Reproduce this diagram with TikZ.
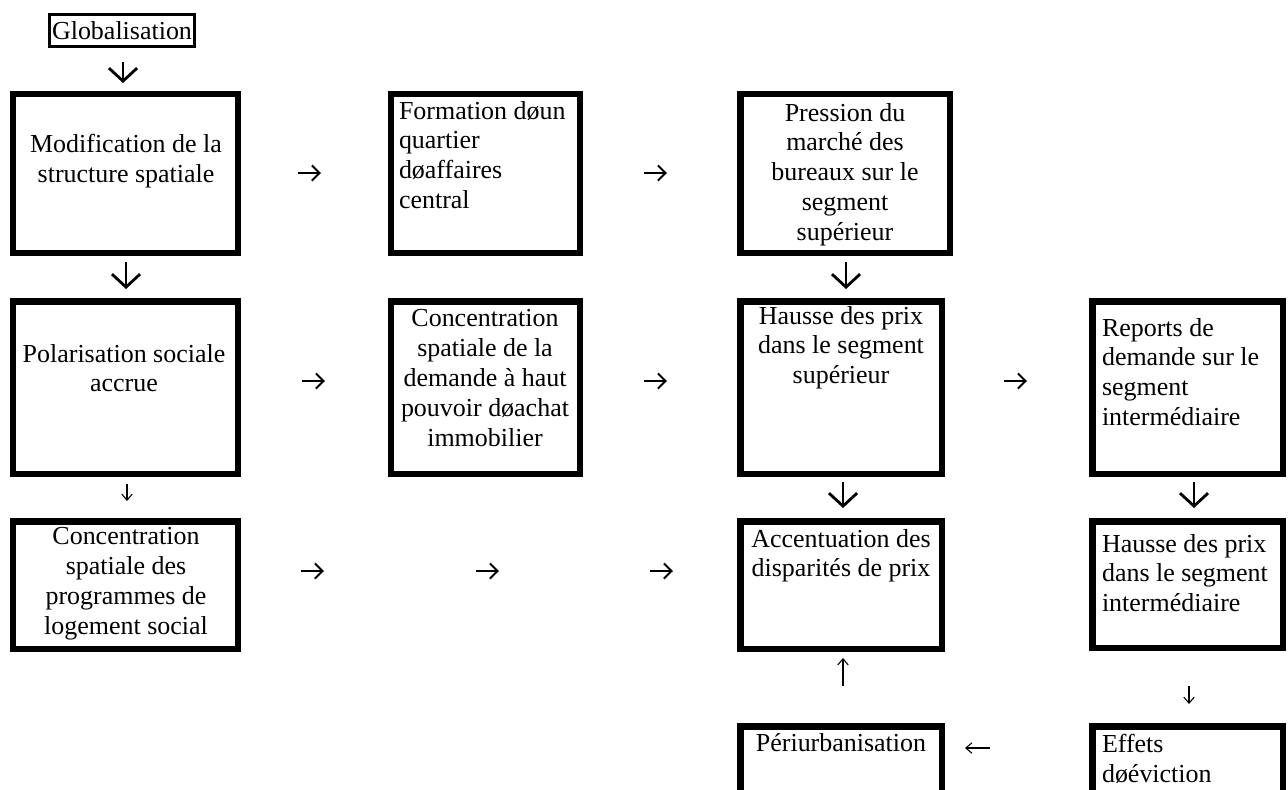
\documentclass[tikz,border=0pt]{standalone}
\usepackage{fontspec}
\setmainfont{Liberation Serif}
\usetikzlibrary{arrows.meta}
\newcommand\mybox[6][box]{%
  \node[#1, minimum width={(#5-#3)*0.4622pt-3pt}, minimum height={(#6-#4)*0.4622pt-3pt}]
    (#2) at ({(#3+#5)/2},{(#4+#6)/2}) {};}
\tikzset{
  x=0.4622pt, y=-0.4622pt,
  box/.style={draw, line width=3pt, inner sep=0pt, outer sep=0pt},
  thinbox/.style={draw, line width=1.4pt, inner sep=0pt, outer sep=0pt},
  txt/.style={inner sep=0pt, outer sep=0pt, font=\fontsize{12}{13.85}\selectfont},
  ctxt/.style={txt, anchor=north, align=center},
  ltxt/.style={txt, anchor=north west, align=left},
  bigdown/.style={line width=1.3pt, -{Straight Barb[length=6pt, width=13pt, line width=1.3pt]}},
  rarr/.style={line width=0.9pt, -{Straight Barb[length=3.6pt, width=7pt, line width=0.9pt]}},
  thinarr/.style={line width=0.5pt, -{Straight Barb[length=2.8pt, width=4.8pt, line width=0.5pt]}},
}
\begin{document}
\begin{tikzpicture}
\clip (0,0) rectangle (1288,789);
\fill[white] (0,0) rectangle (1288,789);

% boxes
\mybox[thinbox]{glob}{46}{11}{198}{50}
\node[txt] at (glob.center) {Globalisation};
\mybox{mod}{10}{91}{241}{256}
\mybox{form}{388}{91}{583}{256}
\mybox{press}{737}{91}{953}{256}
\mybox{pol}{10}{298}{241}{477}
\mybox{conc}{388}{298}{583}{477}
\mybox{hsup}{737}{298}{945}{477}
\mybox{rep}{1089}{298}{1286}{477}
\mybox{csoc}{10}{518}{241}{652}
\mybox{acc}{737}{518}{945}{652}
\mybox{hint}{1089}{518}{1286}{651}
\mybox{peri}{737}{723}{945}{810}
\mybox{eff}{1089}{723}{1286}{810}

% texts
\node[ctxt] (tmod) at (126,134) {Modification de la\\structure spatiale};
\node[ltxt] (tform) at (399,101) {Formation døun\\quartier\\døaffaires\\central};
\node[ctxt] (tpress) at (845,103) {Pression du\\marché des\\bureaux sur le\\segment\\supérieur};
\node[ctxt] (tpol) at (124,344) {Polarisation sociale\\accrue};
\node[ctxt] (tconc) at (485,309) {Concentration\\spatiale de la\\demande à haut\\pouvoir døachat\\immobilier};
\node[ctxt] (thsup) at (841,306) {Hausse des prix\\dans le segment\\supérieur};
\node[ltxt] (trep) at (1102,318) {Reports de\\demande sur le\\segment\\intermédiaire};
\node[ctxt] (tcsoc) at (126,527) {Concentration\\spatiale des\\programmes de\\logement social};
\node[ctxt] (tacc) at (841,529) {Accentuation des\\disparités de prix};
\node[ltxt] (thint) at (1102,534) {Hausse des prix\\dans le segment\\intermédiaire};
\node[ctxt] (tperi) at (841,733) {Périurbanisation};
\node[ltxt] (teff) at (1102,734) {Effets\\døéviction};

% connector end points
\coordinate (a1s) at (123,62);  \coordinate (a1e) at (123,83);
\coordinate (a2s) at (126,262); \coordinate (a2e) at (126,289);
\coordinate (a3s) at (846,262); \coordinate (a3e) at (846,289);
\coordinate (a4s) at (298,173); \coordinate (a4e) at (321,173);
\coordinate (a5s) at (644,173); \coordinate (a5e) at (667,173);
\coordinate (a6s) at (302,381); \coordinate (a6e) at (325,381);
\coordinate (a7s) at (644,381); \coordinate (a7e) at (667,381);
\coordinate (a8s) at (1004,381); \coordinate (a8e) at (1027,381);
\coordinate (a9s) at (127,484);  \coordinate (a9e) at (127,501);
\coordinate (a10s) at (843,482); \coordinate (a10e) at (843,508);
\coordinate (a11s) at (1194,482); \coordinate (a11e) at (1194,508);
\coordinate (a12s) at (301,571); \coordinate (a12e) at (324,571);
\coordinate (a13s) at (476,571); \coordinate (a13e) at (499,571);
\coordinate (a14s) at (650,571); \coordinate (a14e) at (673,571);
\coordinate (a15s) at (843,686); \coordinate (a15e) at (843,658);
\coordinate (a16s) at (1189,686); \coordinate (a16e) at (1189,704);
\coordinate (a17s) at (990,748); \coordinate (a17e) at (965,748);

\draw[bigdown] (a1s) -- (a1e);
\draw[bigdown] (a2s) -- (a2e);
\draw[bigdown] (a3s) -- (a3e);
\draw[rarr] (a4s) -- (a4e);
\draw[rarr] (a5s) -- (a5e);
\draw[rarr] (a6s) -- (a6e);
\draw[rarr] (a7s) -- (a7e);
\draw[rarr] (a8s) -- (a8e);
\draw[thinarr] (a9s) -- (a9e);
\draw[bigdown] (a10s) -- (a10e);
\draw[bigdown] (a11s) -- (a11e);
\draw[rarr] (a12s) -- (a12e);
\draw[rarr] (a13s) -- (a13e);
\draw[rarr] (a14s) -- (a14e);
\draw[thinarr] (a15s) -- (a15e);
\draw[thinarr] (a16s) -- (a16e);
\draw[thinarr] (a17s) -- (a17e);
\end{tikzpicture}
\end{document}
